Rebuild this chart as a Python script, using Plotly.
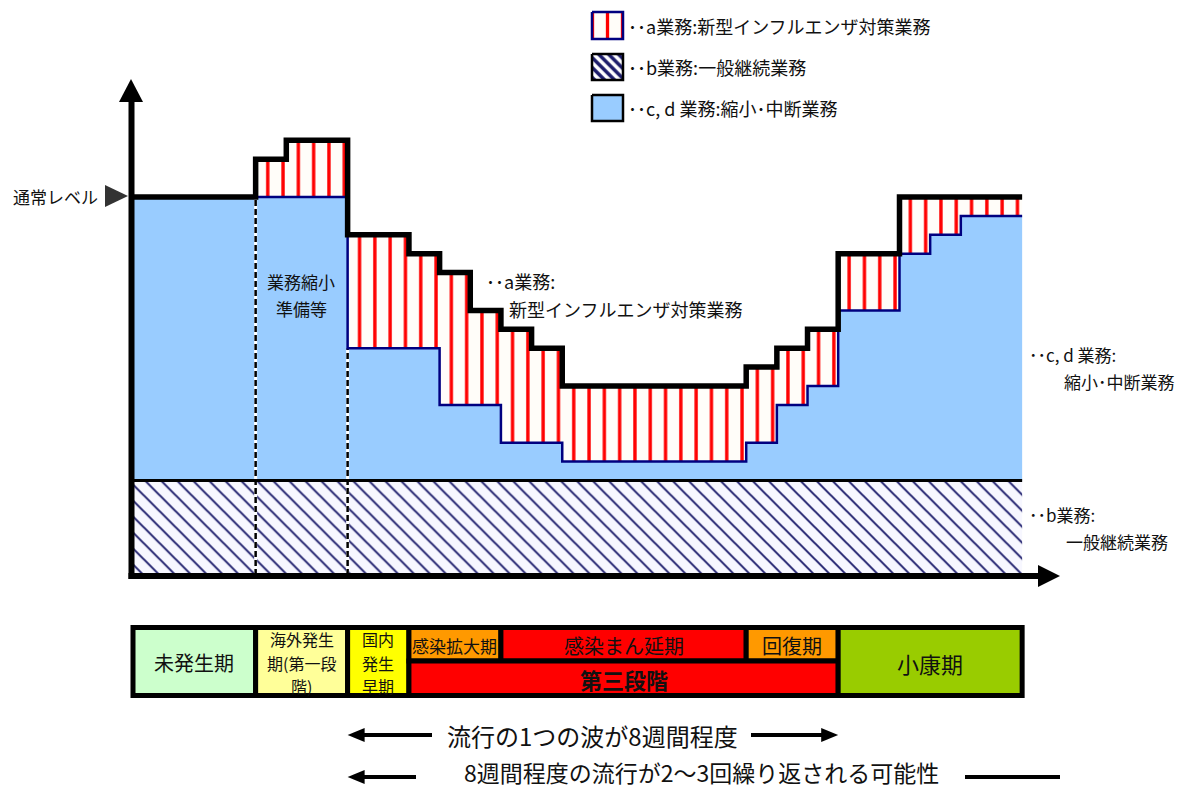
import plotly.graph_objects as go

# ---------------- data ----------------
step_edges = [0, 4, 5, 7, 9, 10, 11, 12, 13, 14, 20, 21, 22, 23, 25, 26, 27, 29]
total_level = [100, 110, 115, 90, 85, 80, 70, 65, 60, 50, 55, 60, 65, 85, 100, 100, 100]
cd_level = [100, 100, 100, 60, 60, 45, 45, 35, 35, 30, 35, 45, 50, 70, 85, 90, 95]
b_level = 25
normal_level = 100
divider_edges = [4, 7]

phase_labels = ["未発生期", "海外発生<br>期(第一段<br>階)", "国内<br>発生<br>早期", "感染拡大期",
                "感染まん延期", "回復期", "<b>第三段階</b>", "小康期"]
phase_start = [0, 4, 7, 9, 12, 20, 9, 23]
phase_end = [4, 7, 9, 12, 20, 23, 23, 29]
phase_row = ["full", "full", "full", "top", "top", "top", "bottom", "full"]
phase_colors = ["#CCFFCC", "#FFFF99", "#FFFF00", "#FF9900", "#FF0000", "#FF9900", "#FF0000", "#99CC00"]
phase_font = [20, 16, 16, 17, 20, 20, 22, 22]
wave_span = [7, 23]

legend_texts = ["･･a業務:新型インフルエンザ対策業務", "･･b業務:一般継続業務", "･･c, d 業務:縮小･中断業務"]

FONT = "Noto Sans CJK JP"
TXT = "#111111"

# pixel <-> data helpers (layout only)
X0, XS = 133.0, 30.66
Y0, YS = 575.0, 3.78


def px_x(p):
    return (p - X0) / XS


def px_y(p):
    return (Y0 - p) / YS


def steps(edges, levels):
    xs, ys = [], []
    for i, lv in enumerate(levels):
        xs += [edges[i], edges[i + 1]]
        ys += [lv, lv]
    return xs, ys


HATCH = dict(shape="\\", bgcolor="#F7F7FF", fgcolor="#1C1C6B", fgopacity=1, size=11.3, solidity=0.17)
STRIPE = dict(shape="|", bgcolor="#FFFDF9", fgcolor="#FF0000", fgopacity=1, size=15.3, solidity=0.22)

fig = go.Figure()

x_end = step_edges[-1]
# b area (hatched)
fig.add_trace(go.Scatter(x=[0, x_end], y=[b_level, b_level], mode="lines", line=dict(width=0),
                         fill="tozeroy", fillpattern=HATCH, hoverinfo="skip"))
# c,d area
cx, cy = steps(step_edges, cd_level)
fig.add_trace(go.Scatter(x=cx, y=cy, mode="lines", line=dict(width=0), fill="tonexty",
                         fillcolor="#99CCFF", hoverinfo="skip"))
# a area
tx, ty = steps(step_edges, total_level)
fig.add_trace(go.Scatter(x=tx, y=ty, mode="lines", line=dict(width=0), fill="tonexty",
                         fillpattern=STRIPE, hoverinfo="skip"))

# dashed dividers
for e in divider_edges:
    i = step_edges.index(e)
    top = min(cd_level[i - 1], cd_level[i])
    fig.add_trace(go.Scatter(x=[e, e], y=[0, top], mode="lines",
                             line=dict(color="white", width=3), hoverinfo="skip"))
    fig.add_trace(go.Scatter(x=[e, e], y=[0, top], mode="lines",
                             line=dict(color="black", width=2.5, dash="6px,3px"), hoverinfo="skip"))

# outlines
fig.add_trace(go.Scatter(x=[0, x_end], y=[b_level, b_level], mode="lines",
                         line=dict(color="black", width=3), hoverinfo="skip"))
fig.add_trace(go.Scatter(x=cx, y=cy, mode="lines", line=dict(color="#000080", width=2.5),
                         hoverinfo="skip"))
fig.add_trace(go.Scatter(x=tx, y=ty, mode="lines", line=dict(color="black", width=5.5),
                         hoverinfo="skip"))

shapes = []
annotations = []


def tri(p1, p2, p3, color="black"):
    path = "M {},{} L {},{} L {},{} Z".format(px_x(p1[0]), px_y(p1[1]), px_x(p2[0]), px_y(p2[1]),
                                               px_x(p3[0]), px_y(p3[1]))
    shapes.append(dict(type="path", path=path, xref="x", yref="y", fillcolor=color,
                       line=dict(width=0)))


def hline(xa, xb, y, w=4, color="black"):
    shapes.append(dict(type="line", xref="x", yref="y", x0=px_x(xa), x1=px_x(xb), y0=px_y(y),
                       y1=px_y(y), line=dict(color=color, width=w)))


def text(t, x, y, size, xanchor="left", yanchor="middle", color=TXT):
    annotations.append(dict(text=t, x=px_x(x), y=px_y(y), xref="x", yref="y", showarrow=False,
                            xanchor=xanchor, yanchor=yanchor, borderpad=0,
                            font=dict(family=FONT, size=size, color=color)))


def two_lines(t1, x1, t2, x2, ymid, size, xanchor="left"):
    text(t1, x1, ymid, size, xanchor=xanchor, yanchor="bottom")
    text(t2, x2, ymid, size, xanchor=xanchor, yanchor="top")


# axes
shapes.append(dict(type="line", xref="x", yref="y", x0=px_x(131.5), x1=px_x(131.5), y0=px_y(579),
                   y1=px_y(100), line=dict(color="black", width=6)))
tri((131, 79), (119, 102), (143, 102))
hline(128.5, 1042, 576, w=6)
tri((1060, 576), (1038, 565), (1038, 587))

# normal level marker
tri((128, 196), (105, 185), (105, 207), color="#333333")
text("通常レベル", 99, 196, 17, xanchor="right")

# in-chart texts
two_lines("業務縮小", 301, "準備等", 301, 295, 17, xanchor="center")
two_lines("･･a業務:", 485, "新型インフルエンザ対策業務", 508, 295, 18)
two_lines("･･c, d 業務:", 1028, "縮小･中断業務", 1063, 367.5, 17)
two_lines("･･b業務:", 1028, "一般継続業務", 1065, 527.5, 17)

# legend
leg_y = [(12, 39), (54, 80), (95, 121)]
lx0, lx1 = 592, 623
patterns = [dict(STRIPE, size=15, solidity=0.22),
            dict(shape="\\", bgcolor="#FFFFFF", fgcolor="#1C1C6B", fgopacity=1, size=7, solidity=0.5),
            None]
borders = ["#000080", "black", "black"]
for k, (ya, yb) in enumerate(leg_y):
    bx = [px_x(lx0), px_x(lx1), px_x(lx1), px_x(lx0), px_x(lx0)]
    by = [px_y(ya), px_y(ya), px_y(yb), px_y(yb), px_y(ya)]
    kw = dict(fillpattern=patterns[k]) if patterns[k] else dict(fillcolor="#99CCFF")
    fig.add_trace(go.Scatter(x=bx, y=by, mode="lines", fill="toself",
                             line=dict(color=borders[k], width=2.5), hoverinfo="skip", **kw))
    text(legend_texts[k], 627, (ya + yb) / 2, 18)

# phase bar
row_px = {"full": (627.5, 695.5), "top": (627.5, 661), "bottom": (661, 695.5)}
LINE_GAP = 23.4
for lab, s, e, r, c, fs in zip(phase_labels, phase_start, phase_end, phase_row, phase_colors, phase_font):
    ya, yb = row_px[r]
    shapes.append(dict(type="rect", xref="x", yref="y", x0=s, x1=e, y0=px_y(ya), y1=px_y(yb),
                       fillcolor=c, line=dict(color="black", width=5)))
    parts = lab.split("<br>")
    ymid = (ya + yb) / 2 + 1
    for j, part in enumerate(parts):
        yy = ymid + (j - (len(parts) - 1) / 2) * LINE_GAP
        annotations.append(dict(text=part, x=(s + e) / 2, y=px_y(yy), xref="x", yref="y",
                                showarrow=False, xanchor="center", yanchor="middle", borderpad=0,
                                font=dict(family=FONT, size=fs, color=TXT)))

# bottom arrows
ws, we = wave_span
ls = X0 + ws * XS
le = X0 + we * XS
y1 = 735
tri((ls, y1), (ls + 17, y1 - 7), (ls + 17, y1 + 7))
hline(ls + 15, 432, y1)
text("流行の1つの波が8週間程度", 592, y1, 24, xanchor="center")
hline(751, le - 15, y1)
tri((le, y1), (le - 17, y1 - 7), (le - 17, y1 + 7))

y2 = 777
tri((ls, y2), (ls + 17, y2 - 7), (ls + 17, y2 + 7))
hline(ls + 15, 416, y2)
text("8週間程度の流行が2～3回繰り返される可能性", 701, 790, 23, xanchor="center", yanchor="bottom")
hline(965, 1060, y2)

fig.update_layout(
    width=1200, height=790, autosize=False,
    margin=dict(l=0, r=0, t=0, b=0),
    paper_bgcolor="white", plot_bgcolor="white",
    showlegend=False,
    xaxis=dict(range=[px_x(0), px_x(1200)], visible=False, fixedrange=True),
    yaxis=dict(range=[px_y(790), px_y(0)], visible=False, fixedrange=True),
    shapes=shapes, annotations=annotations,
    font=dict(family=FONT, color=TXT),
)

fig.write_html("out.html", config={"displayModeBar": False},
               post_script="document.body.style.margin='0px';")
